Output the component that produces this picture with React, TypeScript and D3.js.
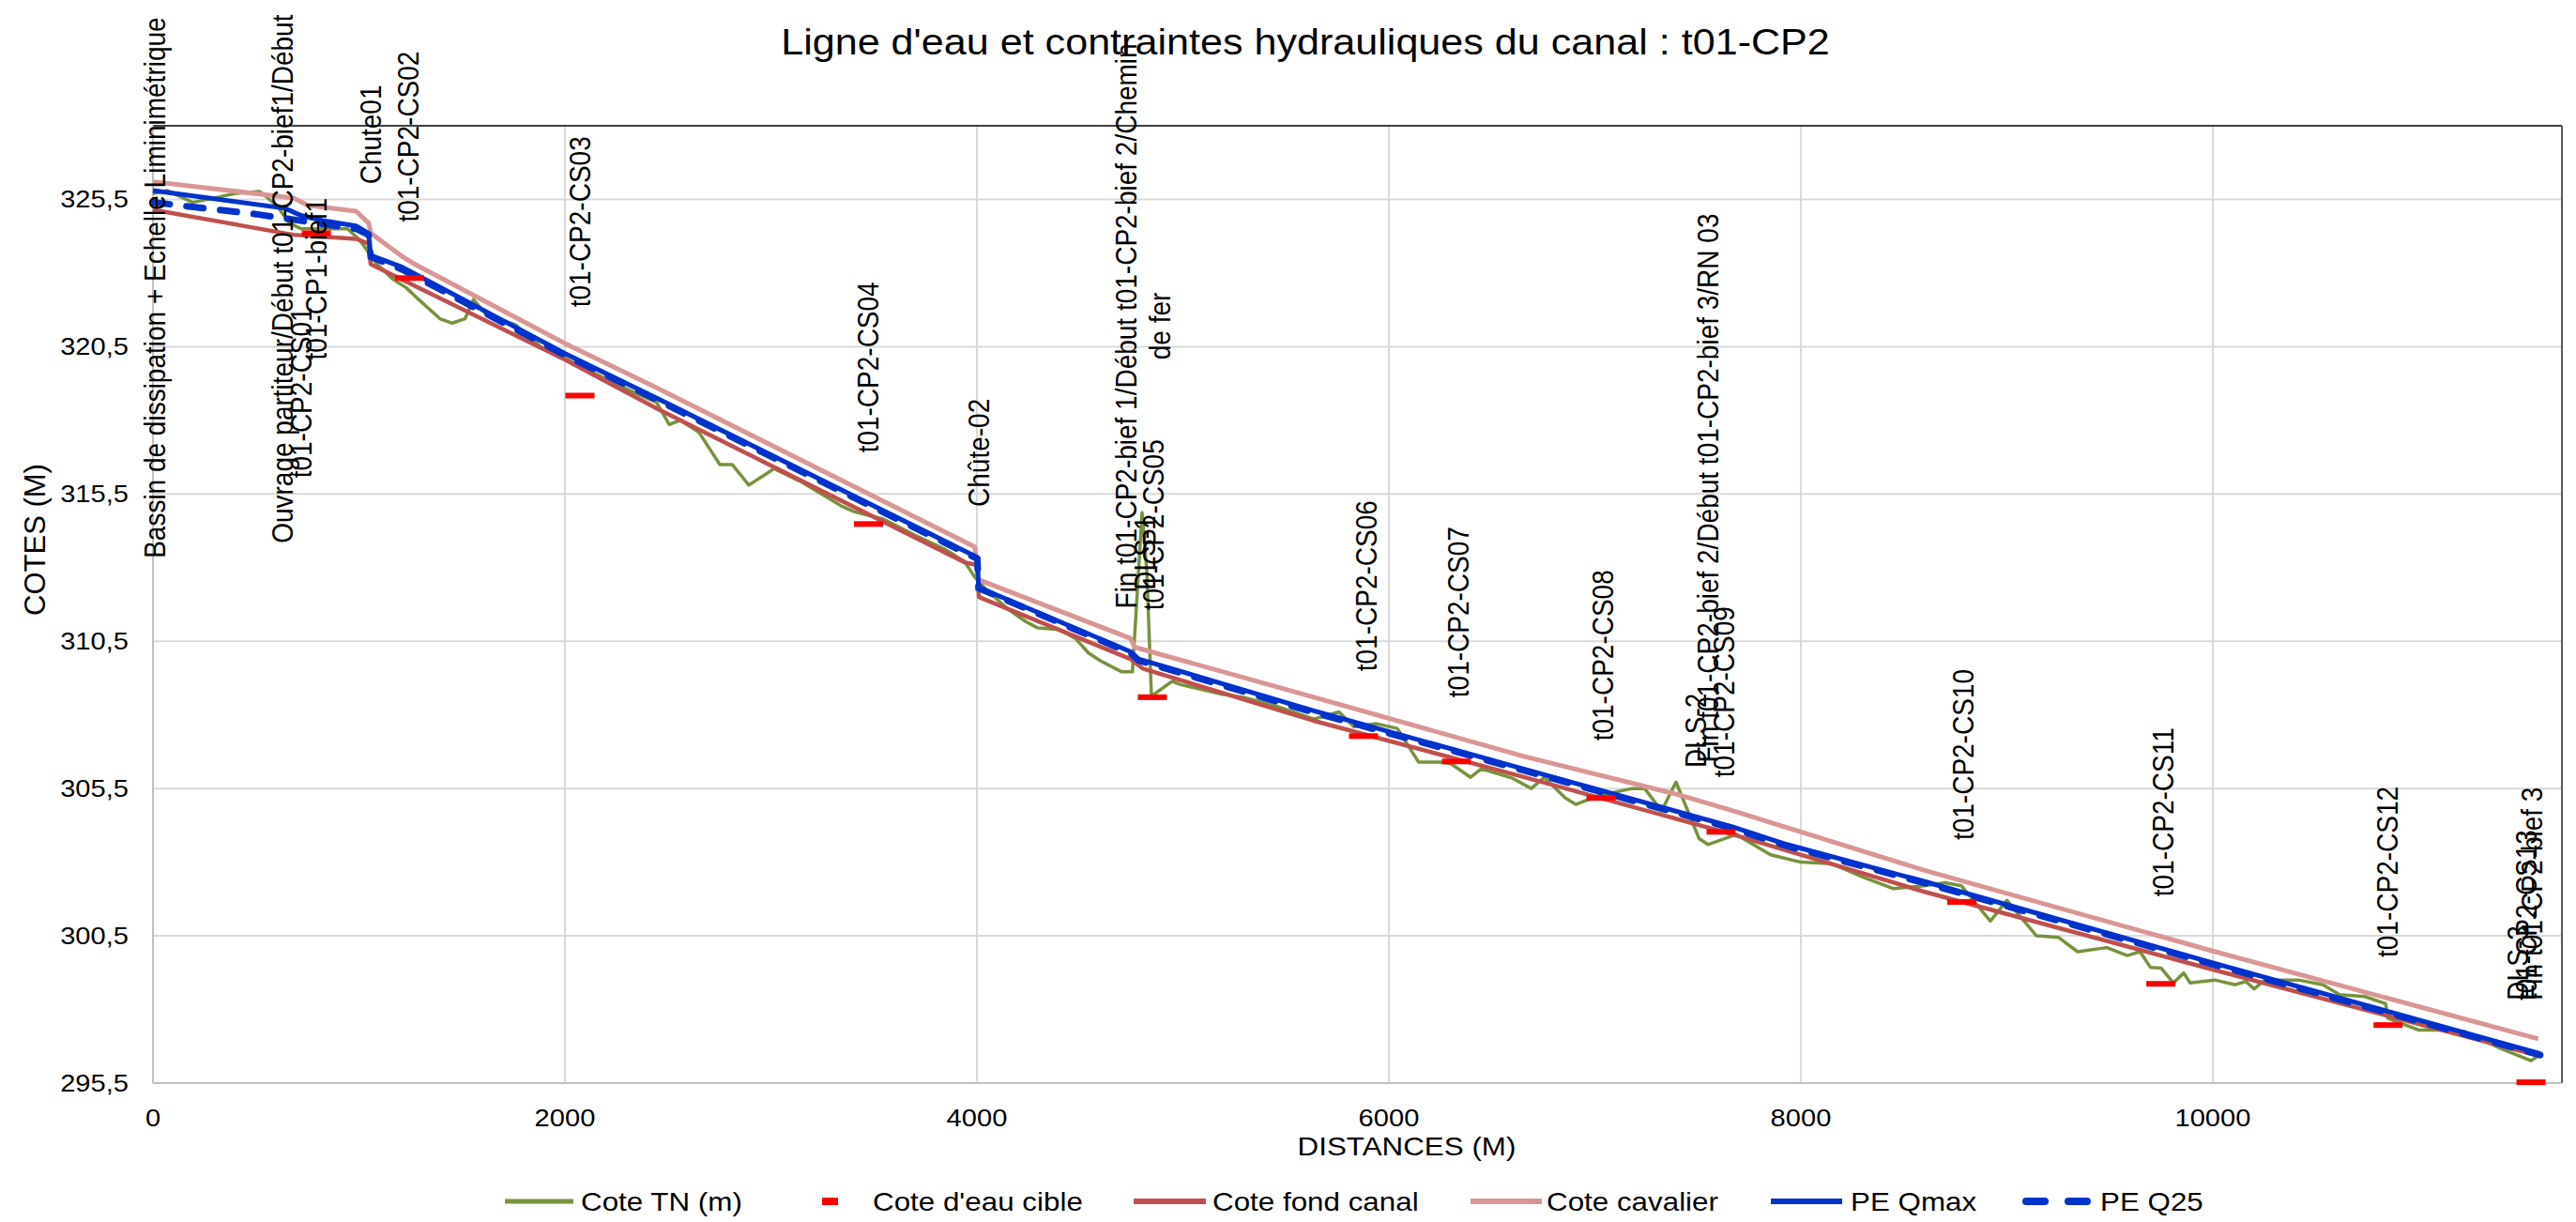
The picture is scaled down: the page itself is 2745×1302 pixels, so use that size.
import * as d3 from "d3";

// distances (m) and elevations (m)
const xTicks = [0, 2000, 4000, 6000, 8000, 10000];
const yTicks = [295.5, 300.5, 305.5, 310.5, 315.5, 320.5, 325.5];

const coteTN: [number, number][] = [
  [0, 325.7], [71, 325.8], [193, 325.4], [300, 325.55], [396, 325.7], [518, 325.77], [600, 325.3],
  [661, 324.7], [721, 324.5], [864, 324.5], [945, 324.5], [1006, 324.1], [1047, 323.7], [1088, 323.3],
  [1169, 322.77], [1230, 322.5], [1290, 322.1], [1393, 321.45], [1453, 321.3], [1515, 321.45],
  [1556, 322.1], [1617, 321.6], [1759, 321.25], [1882, 320.5], [2003, 320.1], [2200, 319.4],
  [2350, 318.9], [2446, 318.6], [2506, 317.86], [2560, 318.0], [2650, 317.6], [2752, 316.5],
  [2812, 316.5], [2893, 315.8], [3016, 316.36], [3150, 315.9], [3340, 315.1], [3403, 314.9],
  [3545, 314.65], [3700, 314.1], [3850, 313.6], [3941, 313.2], [3990, 312.67], [4053, 312.2],
  [4150, 311.6], [4237, 311.17], [4296, 310.95], [4399, 310.9], [4478, 310.6], [4542, 310.1],
  [4601, 309.83], [4704, 309.46], [4755, 309.46], [4765, 310.6], [4802, 314.87], [4825, 312.86],
  [4847, 308.7], [4860, 308.7], [4948, 309.14], [4988, 309.03], [5100, 308.85], [5192, 308.7],
  [5294, 308.6], [5450, 308.3], [5636, 307.86], [5758, 308.1], [5830, 307.6], [5940, 307.7],
  [6041, 307.54], [6144, 306.4], [6246, 306.4], [6300, 306.35], [6397, 305.88], [6449, 306.17],
  [6600, 305.85], [6692, 305.5], [6754, 305.88], [6857, 305.18], [6907, 304.96], [7019, 305.26],
  [7180, 305.5], [7242, 305.5], [7324, 304.74], [7394, 305.72], [7506, 303.8], [7549, 303.6],
  [7686, 303.94], [7853, 303.25], [8000, 303.0], [8150, 302.95], [8300, 302.5], [8450, 302.1],
  [8600, 302.2], [8700, 302.3], [8779, 302.2], [8920, 301.0], [9001, 301.7], [9144, 300.5],
  [9250, 300.45], [9344, 299.96], [9486, 300.1], [9585, 299.83], [9647, 299.96], [9697, 299.43],
  [9750, 299.4], [9809, 298.9], [9859, 299.24], [9890, 298.9], [10009, 299.0], [10109, 298.84],
  [10160, 298.95], [10201, 298.7], [10253, 299.0], [10415, 299.0], [10535, 298.84], [10615, 298.5],
  [10738, 298.44], [10839, 298.2], [10850, 297.7], [11000, 297.3], [11100, 297.3], [11221, 297.25],
  [11403, 296.66], [11545, 296.26], [11586, 296.45],
];

const coteCible: [number, number][] = [
  [793, 324.35], [1246, 322.83], [2073, 318.84], [3474, 314.48], [4852, 308.6], [5877, 307.28],
  [6328, 306.42], [7030, 305.18], [7613, 304.03], [8781, 301.65], [9748, 298.87], [10851, 297.47],
  [11545, 295.53],
];

const coteFond: [number, number][] = [
  [0, 325.15], [681, 324.3], [986, 324.16], [1047, 324.0], [1057, 323.3], [2003, 320.05],
  [2446, 318.4], [3941, 313.18], [4002, 313.08], [4010, 312.0], [4745, 309.9], [4806, 309.57],
  [5636, 307.8], [6651, 305.9], [7667, 303.95], [8597, 302.0], [9991, 299.37], [11586, 296.42],
];

const coteCavalier: [number, number][] = [
  [0, 326.1], [681, 325.55], [752, 325.3], [986, 325.1], [1047, 324.7], [1058, 324.35],
  [1210, 323.56], [1271, 323.3], [2003, 320.6], [2446, 319.1], [3990, 313.7], [4005, 312.6],
  [4745, 310.6], [4766, 310.3], [5636, 308.6], [6651, 306.6], [7400, 305.3], [7667, 304.75],
  [8597, 302.73], [9991, 300.0], [11580, 297.0],
];

const peQmax: [number, number][] = [
  [0, 325.8], [640, 325.2], [721, 324.95], [824, 324.78], [986, 324.6], [1047, 324.35],
  [1057, 323.6], [1210, 323.2], [2003, 320.26], [2446, 318.75], [4002, 313.35], [4008, 312.33],
  [4745, 310.15], [4784, 309.9], [5636, 308.14], [6651, 306.17], [7667, 304.2], [7932, 303.6],
  [8597, 302.35], [9991, 299.6], [11590, 296.5],
];

const peQ25: [number, number][] = [
  [0, 325.4], [500, 325.0], [986, 324.5], [1047, 324.3], [1057, 323.55], [1210, 323.12],
  [2003, 320.2], [2446, 318.7], [4002, 313.3], [4008, 312.3], [4745, 310.1], [4784, 309.85],
  [5636, 308.08], [6651, 306.12], [7667, 304.15], [7932, 303.55], [8597, 302.3], [9991, 299.55],
  [11590, 296.45],
];

// structure labels: distance and elevation of the label centre
const ouvrages = [
  { lines: ["Bassin de dissipation + Echelle Liminimétrique"], d: 10, z: 322.5 },
  { lines: ["Ouvrage partiteur/Début t01-CP2-bief1/Début", "t01-CP1-bief1"], d: 711, z: 322.8 },
  { lines: ["t01-CP2-CS01"], d: 718, z: 318.94 },
  { lines: ["Chute01"], d: 1057, z: 327.7 },
  { lines: ["t01-CP2-CS02"], d: 1239, z: 327.63 },
  { lines: ["t01-CP2-CS03"], d: 2073, z: 324.74 },
  { lines: ["t01-CP2-CS04"], d: 3472, z: 319.8 },
  { lines: ["Chûte-02"], d: 4009, z: 316.9 },
  { lines: ["Fin t01-CP2-bief 1/Début t01-CP2-bief 2/Chemin", "de fer"], d: 4806, z: 321.2 },
  { lines: ["DLS-1"], d: 4815, z: 313.5 },
  { lines: ["t01-CP2-CS05"], d: 4856, z: 314.45 },
  { lines: ["t01-CP2-CS06"], d: 5891, z: 312.38 },
  { lines: ["t01-CP2-CS07"], d: 6337, z: 311.49 },
  { lines: ["t01-CP2-CS08"], d: 7039, z: 310.02 },
  { lines: ["DLS-2"], d: 7490, z: 307.47 },
  { lines: ["Fin t01-CP2-bief 2/Début t01-CP2-bief 3/RN 03"], d: 7549, z: 315.7 },
  { lines: ["t01-CP2-CS09"], d: 7626, z: 308.78 },
  { lines: ["t01-CP2-CS10"], d: 8788, z: 306.65 },
  { lines: ["t01-CP2-CS11"], d: 9758, z: 304.7 },
  { lines: ["t01-CP2-CS12"], d: 10847, z: 302.67 },
  { lines: ["DLS-3"], d: 11481, z: 299.58 },
  { lines: ["t01-CP2-CS13"], d: 11522, z: 301.2 },
  { lines: ["Fin t01-CP2-bief 3"], d: 11549, z: 301.93 },
];

const legendNames = ["Cote TN (m)", "Cote d'eau cible", "Cote fond canal", "Cote cavalier", "PE Qmax", "PE Q25"];

const FONT = "'Liberation Sans', Arial, sans-serif";
const GREEN = "#77933c";
const RED = "#ff0000";
const BROWN = "#c0504d";
const PINK = "#d99694";
const BLUE = "#0033cc";
const SX = 1.12; // horizontal stretch of the original rendering

export default function App() {
  const width = 2745;
  const height = 1302;
  const left = 163, right = 2730, top = 134, bottom = 1154;

  const x = d3.scaleLinear().domain([0, 11695]).range([left, right]);
  const y = d3.scaleLinear().domain([295.5, 328]).range([bottom, top]);

  const line = d3
    .line<[number, number]>()
    .x((d) => x(d[0]))
    .y((d) => y(d[1]));

  const fmtY = (v: number) => d3.format(".1f")(v).replace(".", ",");

  const legendX = [538, 876, 1208, 1567, 1887, 2154];
  const legendTextX = [619, 930, 1292, 1648, 1972, 2238];
  const legendY = 1280;

  return (
    <svg
      width={width}
      height={height}
      style={{ position: "absolute", left: 0, top: 0, background: "#fff" }}
      fontFamily={FONT}
    >
      <rect x={0} y={0} width={width} height={height} fill="#fff" />

      {/* grid */}
      {yTicks.map((t) => (
        <line key={"gy" + t} x1={left} x2={right} y1={y(t)} y2={y(t)} stroke="#d9d9d9" strokeWidth={2} />
      ))}
      {xTicks.slice(1).map((t) => (
        <line key={"gx" + t} x1={x(t)} x2={x(t)} y1={top} y2={bottom} stroke="#d9d9d9" strokeWidth={2} />
      ))}
      <line x1={left} x2={right} y1={top} y2={top} stroke="#000" strokeWidth={1.5} />
      <line x1={right} x2={right} y1={top} y2={bottom} stroke="#595959" strokeWidth={2} />
      <line x1={left} x2={left} y1={top} y2={bottom} stroke="#bfbfbf" strokeWidth={2} />
      <line x1={left} x2={right} y1={bottom} y2={bottom} stroke="#bfbfbf" strokeWidth={2} />

      {/* tick labels */}
      {yTicks.map((t) => (
        <text
          key={"ty" + t}
          transform={`translate(137,${y(t)}) scale(${SX},1)`}
          textAnchor="end"
          dominantBaseline="central"
          fontSize={26}
          fill="#000"
        >
          {fmtY(t)}
        </text>
      ))}
      {xTicks.map((t) => (
        <text
          key={"tx" + t}
          transform={`translate(${x(t)},${bottom + 37}) scale(${SX},1)`}
          textAnchor="middle"
          dominantBaseline="central"
          fontSize={26}
          fill="#000"
        >
          {t}
        </text>
      ))}

      {/* axis titles */}
      <text
        transform={`translate(37,575) rotate(-90)`}
        textAnchor="middle"
        dominantBaseline="central"
        fontSize={31}
        fill="#000"
      >
        COTES (M)
      </text>
      <text
        transform={`translate(1499,1221) scale(${SX},1)`}
        textAnchor="middle"
        dominantBaseline="central"
        fontSize={28}
        fill="#000"
      >
        DISTANCES (M)
      </text>

      {/* series */}
      <path d={line(coteTN) ?? ""} fill="none" stroke={GREEN} strokeWidth={3.5} strokeLinejoin="round" />
      <path d={line(coteFond) ?? ""} fill="none" stroke={BROWN} strokeWidth={4.5} strokeLinejoin="round" />
      <path d={line(coteCavalier) ?? ""} fill="none" stroke={PINK} strokeWidth={5} strokeLinejoin="round" />
      <path d={line(peQmax) ?? ""} fill="none" stroke={BLUE} strokeWidth={5} strokeLinejoin="round" />
      <path
        d={line(peQ25) ?? ""}
        fill="none"
        stroke={BLUE}
        strokeWidth={7}
        strokeDasharray="18 18"
        strokeLinecap="round"
      />
      {coteCible.map((p, i) => (
        <rect key={"c" + i} x={x(p[0]) - 15.5} y={y(p[1]) - 3} width={31} height={6} fill={RED} />
      ))}

      {/* structure labels */}
      {ouvrages.map((o, i) =>
        o.lines.map((s, j) => (
          <text
            key={"o" + i + "-" + j}
            transform={`translate(${x(o.d) + (j - (o.lines.length - 1) / 2) * 36},${y(o.z)}) scale(${SX},1) rotate(-90)`}
            textAnchor="middle"
            dominantBaseline="central"
            fontSize={28}
            fill="#000"
          >
            {s}
          </text>
        ))
      )}

      {/* title */}
      <text
        transform={`translate(1391,58) scale(${SX},1)`}
        textAnchor="middle"
        fontSize={38.5}
        fill="#000"
      >
        Ligne d'eau et contraintes hydrauliques du canal : t01-CP2
      </text>

      {/* legend */}
      <g>
        <line x1={legendX[0]} x2={legendX[0] + 73} y1={legendY} y2={legendY} stroke={GREEN} strokeWidth={5} />
        <rect x={legendX[1]} y={legendY - 4} width={17} height={8} fill={RED} />
        <line x1={legendX[2]} x2={legendX[2] + 77} y1={legendY} y2={legendY} stroke={BROWN} strokeWidth={6} />
        <line x1={legendX[3]} x2={legendX[3] + 76} y1={legendY} y2={legendY} stroke={PINK} strokeWidth={6} />
        <line x1={legendX[4]} x2={legendX[4] + 76} y1={legendY} y2={legendY} stroke={BLUE} strokeWidth={6} />
        <line
          x1={legendX[5] + 5}
          x2={legendX[5] + 70}
          y1={legendY}
          y2={legendY}
          stroke={BLUE}
          strokeWidth={8}
          strokeDasharray="20 25"
          strokeLinecap="round"
        />
        {legendNames.map((n, i) => (
          <text
            key={"l" + i}
            transform={`translate(${legendTextX[i]},${legendY}) scale(${SX},1)`}
            dominantBaseline="central"
            fontSize={28}
            fill="#000"
          >
            {n}
          </text>
        ))}
      </g>
    </svg>
  );
}
